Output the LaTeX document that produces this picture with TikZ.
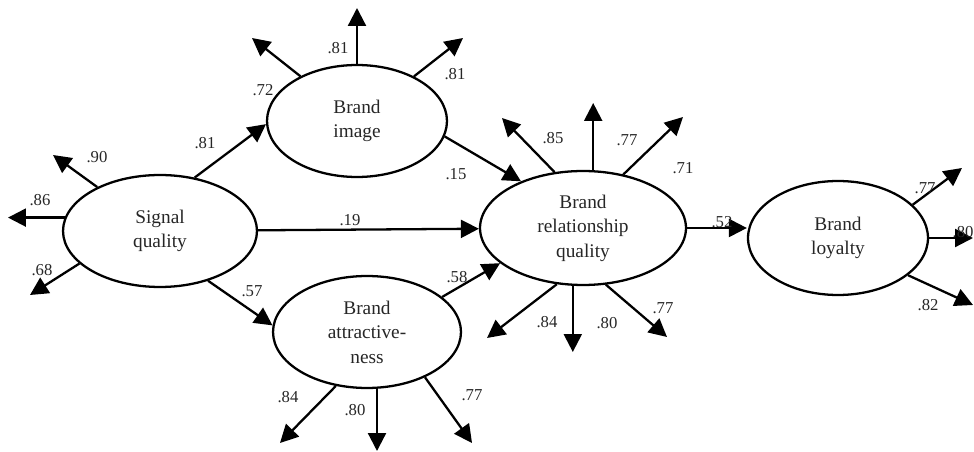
\documentclass[tikz,border=0pt]{standalone}
\usepackage{fontspec}
\setmainfont{Liberation Serif}
\usepackage{tikz}
\usetikzlibrary{arrows.meta, shapes.geometric, positioning}

\tikzset{
  construct/.style={ellipse, draw, line width=1.3pt, align=center, inner sep=0pt,
    font=\fontsize{11}{14}\selectfont, text=black!85},
  arr/.style={line width=1.3pt, -{Triangle[length=3.6mm, width=3.6mm]}},
  coef/.style={font=\fontsize{9.5}{11}\selectfont, text=black!85, inner sep=0pt}
}

\begin{document}
\begin{tikzpicture}[x=0.02cm, y=-0.02cm]
    \useasboundingbox (0,0) rectangle (974,452);

    % constructs
    \node[construct, minimum width=3.88cm, minimum height=2.24cm] (sq) at (160,231) {Signal\\quality};
    \node[construct, minimum width=3.6cm, minimum height=2.24cm] (bi) at (357,121) {Brand\\image};
    \node[construct, minimum width=3.76cm, minimum height=2.24cm] (ba) at (367,332) {Brand\\attractive-\\ness};
    \node[construct, minimum width=4.12cm, minimum height=2.28cm] (brq) at (583,228) {Brand\\relationship\\quality};
    \node[construct, minimum width=3.6cm, minimum height=2.28cm] (bl) at (838,238) {Brand\\loyalty};

    % free ends of the indicator arrows
    \coordinate (sq90) at (53,155);
    \coordinate (sq86) at (8,218);
    \coordinate (sq68) at (30,295);
    \coordinate (bi72) at (252,38);
    \coordinate (bi81a) at (357,8);
    \coordinate (bi81b) at (463,38);
    \coordinate (brq85) at (502,118);
    \coordinate (brq77a) at (593,103);
    \coordinate (brq71) at (683,117);
    \coordinate (brq84) at (487,338);
    \coordinate (brq80) at (573,352);
    \coordinate (brq77b) at (667,337);
    \coordinate (bl77) at (962,168);
    \coordinate (bl80) at (973,238);
    \coordinate (bl82) at (973,305);
    \coordinate (ba84) at (280,443);
    \coordinate (ba80) at (377,451);
    \coordinate (ba77) at (472,443);

    % structural paths
    \path[arr]
        (sq.57) edge (bi.182)
        (sq) edge (brq)
        (sq.314) edge (ba.176)
        (bi.350) edge (brq.143)
        (ba.25) edge (brq.203)
        (brq.east) edge (bl.west |- brq.east);

    % indicator arrows
    \path[arr]
        (sq.145) edge (sq90)
        (sq.172) edge (sq.172 -| sq86)
        (sq.202) edge (sq68)
        (bi) edge (bi72)
        (bi.north) edge (bi81a)
        (bi) edge (bi81b)
        (brq.117) edge (brq85)
        (brq.80) edge (brq.80 |- brq77a)
        (brq.53) edge (brq71)
        (brq.245) edge (brq84)
        (brq.260) edge (brq.260 |- brq80)
        (brq.292) edge (brq77b)
        (bl.24) edge (bl77)
        (bl.east) edge (bl80)
        (bl.332) edge (bl82)
        (ba.240) edge (ba84)
        (ba.280) edge (ba.280 |- ba80)
        (ba.322) edge (ba77);

    % coefficients
    \node[coef] (l-sq90) at (97,157) {.90};
    \node[coef] (l-sq86) at (40,200) {.86};
    \node[coef] (l-sq68) at (42,270) {.68};
    \node[coef] (l-sqbi) at (205,143) {.81};
    \node[coef] (l-sqbrq) at (350,220) {.19};
    \node[coef] (l-sqba) at (252,291) {.57};
    \node[coef] (l-bi72) at (263,90) {.72};
    \node[coef] (l-bi81a) at (338,48) {.81};
    \node[coef] (l-bi81b) at (455,74) {.81};
    \node[coef] (l-bibrq) at (456,174) {.15};
    \node[coef] (l-brq85) at (553,138) {.85};
    \node[coef] (l-brq77a) at (627,140) {.77};
    \node[coef] (l-brq71) at (683,168) {.71};
    \node[coef] (l-brqbl) at (722,222) {.52};
    \node[coef] (l-brq84) at (547,322) {.84};
    \node[coef] (l-brq80) at (607,323) {.80};
    \node[coef] (l-brq77b) at (663,308) {.77};
    \node[coef] (l-babrq) at (457,277) {.58};
    \node[coef] (l-bl77) at (925,188) {.77};
    \node[coef] (l-bl80) at (963,232) {.80};
    \node[coef] (l-bl82) at (928,305) {.82};
    \node[coef] (l-ba84) at (288,397) {.84};
    \node[coef] (l-ba80) at (355,410) {.80};
    \node[coef] (l-ba77) at (472,395) {.77};

\end{tikzpicture}
\end{document}
